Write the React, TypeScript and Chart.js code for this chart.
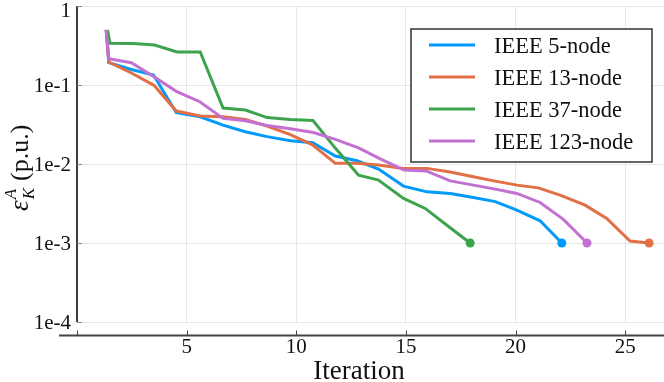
import React, { useEffect, useRef } from "react";
import { Chart, registerables } from "chart.js";
Chart.register(...registerables);

const seriesNames = ["IEEE 5-node", "IEEE 13-node", "IEEE 37-node", "IEEE 123-node"];
const seriesColors = ["#009AFA", "#E26F46", "#3DA44D", "#C271D2"];

const iter5 = [1.33, 1.45, 2.48, 3.49, 4.53, 5.62, 6.66, 7.68, 8.67, 9.73, 10.76, 11.78, 12.77, 13.75, 14.89, 15.96, 17.02, 18.08, 19.07, 20.06, 21.12, 22.11];
const err5 = [0.498, 0.192, 0.157, 0.134, 0.0446, 0.0396, 0.0311, 0.0256, 0.0222, 0.0197, 0.0186, 0.0126, 0.011, 0.00862, 0.00525, 0.00444, 0.00424, 0.00377, 0.00334, 0.0026, 0.00191, 0.001];

const iter13 = [1.33, 1.45, 2.48, 3.51, 4.53, 5.62, 6.66, 7.68, 8.67, 9.73, 10.74, 11.78, 12.77, 13.75, 14.89, 15.96, 17.02, 18.08, 19.07, 20.06, 21.04, 22.03, 23.17, 24.16, 25.22, 26.09];
const err13 = [0.498, 0.1956, 0.142, 0.0991, 0.0468, 0.0405, 0.0396, 0.0367, 0.0302, 0.0235, 0.0175, 0.0102, 0.0102, 0.00968, 0.0088, 0.0088, 0.0079, 0.00688, 0.00607, 0.0054, 0.00499, 0.00403, 0.00301, 0.00204, 0.00106, 0.001];

const iter37 = [1.39, 1.51, 2.57, 3.54, 4.56, 5.62, 6.66, 7.68, 8.67, 9.73, 10.76, 11.78, 12.84, 13.75, 14.89, 15.88, 16.87, 17.93];
const err37 = [0.498, 0.338, 0.334, 0.321, 0.262, 0.262, 0.0511, 0.0482, 0.0387, 0.0367, 0.0355, 0.0159, 0.00723, 0.00625, 0.00366, 0.00274, 0.00168, 0.001];

const iter123 = [1.33, 1.45, 2.48, 3.51, 4.53, 5.6, 6.66, 7.68, 8.67, 9.73, 10.78, 11.78, 12.84, 13.83, 14.92, 15.92, 17.02, 18.08, 19.07, 20.06, 21.12, 22.18, 23.26];
const err123 = [0.498, 0.2155, 0.1917, 0.1274, 0.0832, 0.0614, 0.0378, 0.0353, 0.0307, 0.0279, 0.025, 0.0205, 0.016, 0.01164, 0.00837, 0.00818, 0.00611, 0.0054, 0.00481, 0.00424, 0.00326, 0.00199, 0.001];

const xTicks = [0, 5, 10, 15, 20, 25];
const xTickLabels = ["", "5", "10", "15", "20", "25"];
const yTicks = [1e-4, 1e-3, 1e-2, 1e-1, 1];
const yTickLabels = ["1e-4", "1e-3", "1e-2", "1e-1", "1"];
const xTitle = "Iteration";

const FONT = "'Liberation Serif', 'DejaVu Serif', serif";

const decorPlugin = {
  id: "decor",
  afterDraw(chart: any) {
    const ctx = chart.ctx;
    const ca = chart.chartArea;
    const xs = chart.scales.x;
    const ys = chart.scales.y;
    ctx.save();
    // y spine
    ctx.strokeStyle = "#111";
    ctx.lineWidth = 1.6;
    ctx.beginPath();
    ctx.moveTo(ca.left, ca.top);
    ctx.lineTo(ca.left, ca.bottom);
    ctx.stroke();
    // y ticks
    ctx.strokeStyle = "#888";
    ctx.lineWidth = 1;
    yTicks.forEach((v) => {
      const py = Math.round(ys.getPixelForValue(v)) + 0.5;
      ctx.beginPath();
      ctx.moveTo(ca.left, py);
      ctx.lineTo(ca.left + 5, py);
      ctx.stroke();
    });
    // x spine
    const axisY = ca.bottom + 13.5;
    ctx.strokeStyle = "#444";
    ctx.lineWidth = 2;
    ctx.beginPath();
    ctx.moveTo(ca.left - 18, axisY);
    ctx.lineTo(chart.width, axisY);
    ctx.stroke();
    ctx.lineWidth = 1;
    xTicks.forEach((v) => {
      const px = Math.round(xs.getPixelForValue(v)) + 0.5;
      ctx.beginPath();
      ctx.moveTo(px, axisY);
      ctx.lineTo(px, axisY - 5);
      ctx.stroke();
    });
    // y labels
    ctx.fillStyle = "#111";
    ctx.font = `21px ${FONT}`;
    ctx.textAlign = "right";
    ctx.textBaseline = "middle";
    yTicks.forEach((v, i) => {
      let py = ys.getPixelForValue(v);
      if (v === 1) py += 4;
      ctx.fillText(yTickLabels[i], ca.left - 6, py + 1);
    });
    // y title
    ctx.save();
    ctx.translate(28, 211);
    ctx.rotate(-Math.PI / 2);
    ctx.textAlign = "left";
    ctx.textBaseline = "alphabetic";
    ctx.font = `italic 27px ${FONT}`;
    ctx.fillText("\u03B5", 0, 0);
    const ew = ctx.measureText("\u03B5").width;
    ctx.font = `italic 17px ${FONT}`;
    ctx.fillText("A", ew + 1, -12);
    const aw = ctx.measureText("A").width;
    ctx.fillText("K", ew + 1, 6);
    const kw = ctx.measureText("K").width;
    ctx.font = `26px ${FONT}`;
    ctx.fillText("(p.u.)", ew + Math.max(aw, kw) + 8, 0);
    ctx.restore();
    // x title
    ctx.font = `27px ${FONT}`;
    ctx.textAlign = "center";
    ctx.textBaseline = "alphabetic";
    ctx.fillText(xTitle, 359, 379);
    // legend
    const lx = 411, ly = 29, lw = 241, lh = 133;
    ctx.fillStyle = "#fff";
    ctx.fillRect(lx, ly, lw, lh);
    ctx.strokeStyle = "#333";
    ctx.lineWidth = 1.5;
    ctx.strokeRect(lx, ly, lw, lh);
    ctx.font = `22.5px ${FONT}`;
    ctx.textAlign = "left";
    seriesNames.forEach((name, i) => {
      const y = 45 + i * 32;
      ctx.strokeStyle = seriesColors[i];
      ctx.lineWidth = 3;
      ctx.beginPath();
      ctx.moveTo(429, y);
      ctx.lineTo(475, y);
      ctx.stroke();
      ctx.fillStyle = "#111";
      ctx.fillText(name, 494, y + 8);
    });
    ctx.restore();
  },
};

function makeDataset(idx: number, xs: number[], ys: number[]) {
  const n = xs.length;
  return {
    label: seriesNames[idx],
    data: xs.map((x, i) => ({ x, y: ys[i] })),
    borderColor: seriesColors[idx],
    backgroundColor: seriesColors[idx],
    borderWidth: 3,
    pointRadius: xs.map((_, i) => (i === n - 1 ? 4.5 : 0)),
    pointBorderWidth: 0,
    pointBackgroundColor: seriesColors[idx],
    tension: 0,
    fill: false,
    order: 3 - idx,
  };
}

export default function App() {
  const ref = useRef<HTMLCanvasElement>(null);
  useEffect(() => {
    document.body.style.margin = "0";
    const chart = new Chart(ref.current as HTMLCanvasElement, {
      type: "line",
      data: {
        datasets: [
          makeDataset(0, iter5, err5),
          makeDataset(1, iter13, err13),
          makeDataset(2, iter37, err37),
          makeDataset(3, iter123, err123),
        ] as any,
      },
      options: {
        animation: false,
        responsive: false,
        devicePixelRatio: 1,
        layout: { autoPadding: false, padding: { top: 6, left: 0, right: 0, bottom: 0 } },
        plugins: { legend: { display: false }, tooltip: { enabled: false } },
        scales: {
          x: {
            type: "linear",
            min: 0,
            max: 26.77,
            afterBuildTicks: (s: any) => {
              s.ticks = xTicks.map((v) => ({ value: v }));
            },
            afterFit: (s: any) => {
              s.height = 60;
              s.paddingLeft = 0;
              s.paddingRight = 0;
            },
            ticks: {
              autoSkip: false,
              maxRotation: 0,
              padding: 0,
              color: "#111",
              font: { family: FONT, size: 21 },
              callback: (v: any) => {
                const i = xTicks.indexOf(Number(v));
                return i >= 0 ? xTickLabels[i] : "";
              },
            },
            grid: {
              color: "#e6e6e6",
              lineWidth: 1,
              drawTicks: true,
              tickLength: 13,
              tickColor: "rgba(0,0,0,0)",
            },
            border: { display: false },
          },
          y: {
            type: "logarithmic",
            min: 1e-4,
            max: 1,
            afterBuildTicks: (s: any) => {
              s.ticks = yTicks.map((v) => ({ value: v }));
            },
            afterFit: (s: any) => {
              s.width = 77;
            },
            ticks: { display: false },
            grid: { color: "#e6e6e6", lineWidth: 1, drawTicks: false },
            border: { display: false },
          },
        },
      },
      plugins: [decorPlugin],
    });
    return () => chart.destroy();
  }, []);
  return (
    <div style={{ position: "absolute", left: 0, top: 0, width: 664, height: 382 }}>
      <canvas ref={ref} width={664} height={382} style={{ width: 664, height: 382 }} />
    </div>
  );
}
